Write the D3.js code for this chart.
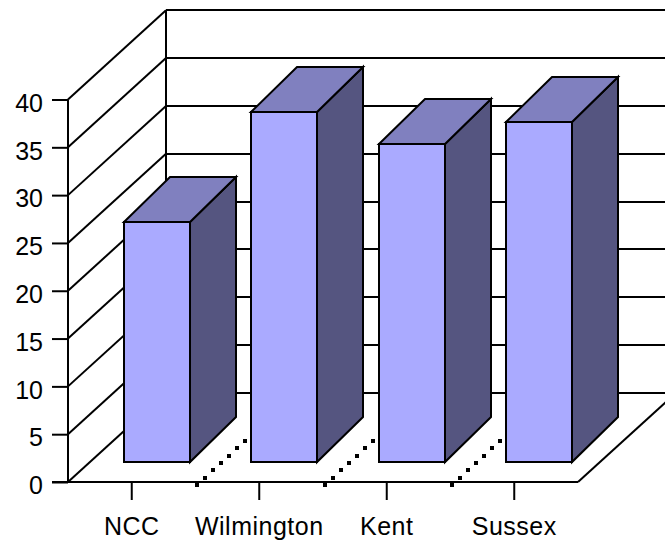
<!DOCTYPE html>
<html>
<head>
<meta charset="utf-8">
<script src="https://cdn.jsdelivr.net/npm/d3@7/dist/d3.min.js"></script>
<style>
  html, body { margin: 0; padding: 0; background: #fff; overflow: hidden; }
  svg { display: block; }
  text { font-family: "Liberation Sans", Arial, sans-serif; fill: #000; }
</style>
</head>
<body>
<svg id="chart" width="665" height="541"></svg>
<script>
const categories = ["NCC", "Wilmington", "Kent", "Sussex"];
const values = [25.1, 36.6, 33.3, 35.6];
const yTicks = [0, 5, 10, 15, 20, 25, 30, 35, 40];

const colors = { front: "#AAAAFF", top: "#8080BF", side: "#555580", ink: "#000" };

// Oblique projection: the floor and walls recede by wall.dx / wall.dy.
const wall = { dx: 98, dy: 89.2 };
const barDepth = { dx: 46, dy: 45 };
const barInset = { dx: 25, dy: 20 };
const barWidth = 66;

const x = d3.scaleBand().domain(categories).range([68, 578]);
const y = d3.scaleLinear().domain([0, 40]).range([482, 99.5]);

const svg = d3.select("#chart");
const line = d3.line();
const stroke = 2;

// Back wall, gridlines and their continuation down the left wall
const grid = svg.append("g").attr("fill", "none").attr("stroke", colors.ink).attr("stroke-width", stroke);
const x0 = x.range()[0], x1 = x.range()[1];
grid.selectAll("line.back").data(yTicks).join("line").attr("class", "back")
  .attr("x1", x0 + wall.dx).attr("x2", x1 + wall.dx)
  .attr("y1", d => Math.round(y(d) - wall.dy)).attr("y2", d => Math.round(y(d) - wall.dy));
grid.selectAll("line.left").data(yTicks).join("line").attr("class", "left")
  .attr("x1", x0).attr("x2", x0 + wall.dx)
  .attr("y1", d => y(d)).attr("y2", d => y(d) - wall.dy);
grid.append("line")
  .attr("x1", x0 + wall.dx).attr("x2", x0 + wall.dx)
  .attr("y1", y(40) - wall.dy).attr("y2", y(0) - wall.dy);
grid.append("line")
  .attr("x1", x1).attr("x2", x1 + wall.dx)
  .attr("y1", y(0)).attr("y2", y(0) - wall.dy);

// Value axis
const yAxis = d3.axisLeft(y).tickValues(yTicks).tickSize(16).tickPadding(9).tickFormat(d3.format("d"));
const yG = svg.append("g").attr("transform", `translate(${x0},0)`).call(yAxis);
yG.select(".domain").attr("stroke", colors.ink).attr("stroke-width", stroke).attr("d", `M0,${y(40)}V${y(0)}`);
yG.selectAll(".tick line").attr("stroke", colors.ink).attr("stroke-width", stroke);
yG.selectAll(".tick text")
  .attr("font-size", 25).attr("font-family", "'Liberation Sans', Arial, sans-serif")
  .attr("dy", "0.47em");

// Category axis
const xAxis = d3.axisBottom(x).tickSize(18).tickPadding(17);
const xG = svg.append("g").attr("transform", `translate(0,${Math.round(y(0))})`).call(xAxis);
xG.select(".domain").attr("stroke", colors.ink).attr("stroke-width", stroke).attr("d", `M52,0H${x1}`);
xG.selectAll(".tick line").attr("stroke", colors.ink).attr("stroke-width", stroke);
xG.selectAll(".tick text")
  .attr("font-size", 25).attr("font-family", "'Liberation Sans', Arial, sans-serif")
  .attr("letter-spacing", 0.5);

// Dotted category separators on the floor
const dotSteps = d3.range(7);
const separators = categories.slice(1).map(c => x(c));
const dots = svg.append("g").attr("fill", colors.ink);
separators.forEach(sx => {
  dots.selectAll(null).data(dotSteps).join("rect")
    .attr("x", d => Math.round(sx - 0.5 + d * 8))
    .attr("y", d => Math.round(y(0) + 1 - d * 7.35))
    .attr("width", 4).attr("height", 4);
});

// Bars: front face, top face and side face
const bars = svg.append("g").selectAll("g").data(categories).join("g")
  .attr("stroke", colors.ink).attr("stroke-width", stroke).attr("stroke-linejoin", "miter");

const bx = c => Math.round(x(c) + x.bandwidth() / 2 - barWidth / 2 + barInset.dx);
const baseY = Math.round(y(0) - barInset.dy);
const topY = i => Math.round(y(values[i]) - barInset.dy);

bars.append("path").attr("fill", colors.side).attr("d", (c, i) => line([
  [bx(c) + barWidth, topY(i)],
  [bx(c) + barWidth + barDepth.dx, topY(i) - barDepth.dy],
  [bx(c) + barWidth + barDepth.dx, baseY - barDepth.dy],
  [bx(c) + barWidth, baseY]
]) + "Z");
bars.append("path").attr("fill", colors.top).attr("d", (c, i) => line([
  [bx(c), topY(i)],
  [bx(c) + barDepth.dx, topY(i) - barDepth.dy],
  [bx(c) + barWidth + barDepth.dx, topY(i) - barDepth.dy],
  [bx(c) + barWidth, topY(i)]
]) + "Z");
bars.append("rect").attr("fill", colors.front)
  .attr("x", c => bx(c)).attr("width", barWidth)
  .attr("y", (c, i) => topY(i)).attr("height", (c, i) => baseY - topY(i));
</script>
</body>
</html>
